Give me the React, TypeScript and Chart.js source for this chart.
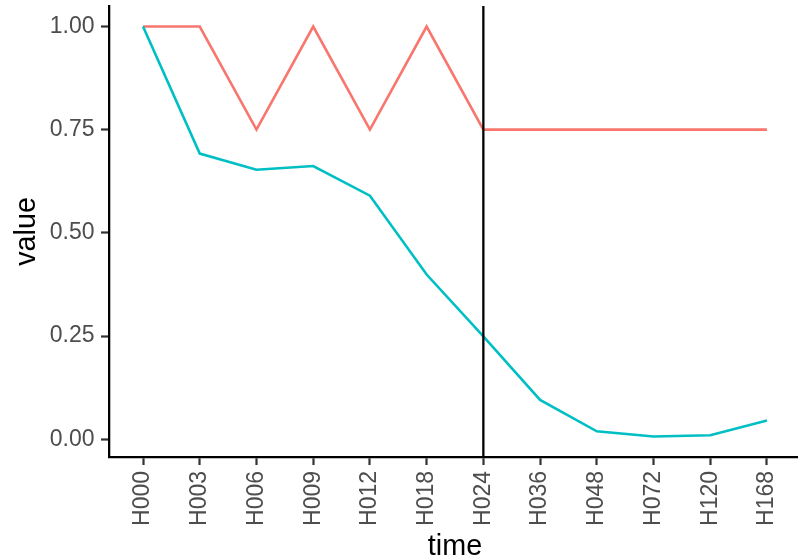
import React, { useEffect, useRef } from "react";
import { Chart, registerables } from "chart.js";

Chart.register(...registerables);

const categories = ["H000", "H003", "H006", "H009", "H012", "H018", "H024", "H036", "H048", "H072", "H120", "H168"];
const redValues = [1.0, 1.0, 0.75, 1.0, 0.75, 1.0, 0.75, 0.75, 0.75, 0.75, 0.75, 0.75];
const cyanValues = [1.0, 0.692, 0.653, 0.662, 0.59, 0.399, 0.249, 0.095, 0.019, 0.0065, 0.0097, 0.045];
const yTicks = [0, 0.25, 0.5, 0.75, 1.0];
const vlineCategory = "H024";

const FONT = "'Liberation Sans', Arial, Helvetica, sans-serif";

export default function App() {
  const ref = useRef<HTMLCanvasElement | null>(null);

  useEffect(() => {
    const canvas = ref.current;
    if (!canvas) return;
    const all = [...redValues, ...cyanValues];
    const dMin = Math.min(...all);
    const dMax = Math.max(...all);
    const span = dMax - dMin;
    const yMin = dMin - span * 0.05;
    const yMax = dMax + span * 0.05;

    const vlinePlugin = {
      id: "vline",
      afterDatasetsDraw(chart: any) {
        const idx = categories.indexOf(vlineCategory);
        const x = chart.scales.x.getPixelForValue(idx);
        const { top, bottom } = chart.chartArea;
        const ctx = chart.ctx;
        ctx.save();
        ctx.strokeStyle = "#000000";
        ctx.lineWidth = 2.3;
        ctx.beginPath();
        ctx.moveTo(x, top);
        ctx.lineTo(x, bottom);
        ctx.stroke();
        ctx.restore();
      },
    };

    const chart = new Chart(canvas, {
      type: "line",
      data: {
        datasets: [
          {
            label: "cyan",
            data: cyanValues.map((v, i) => ({ x: i, y: v })),
            borderColor: "#00BFC4",
            backgroundColor: "#00BFC4",
            borderWidth: 2.6,
            pointRadius: 0,
            tension: 0,
            order: 0,
          },
          {
            label: "red",
            data: redValues.map((v, i) => ({ x: i, y: v })),
            borderColor: "#F8766D",
            backgroundColor: "#F8766D",
            borderWidth: 2.6,
            pointRadius: 0,
            tension: 0,
            order: 1,
          },
        ],
      },
      options: {
        animation: false,
        responsive: false,
        devicePixelRatio: 1,
        layout: { padding: { top: 6, left: 0, right: 0, bottom: 0 } },
        plugins: { legend: { display: false }, tooltip: { enabled: false } },
        scales: {
          x: {
            type: "linear",
            min: -0.6,
            max: categories.length - 1 + 0.6,
            bounds: "data",
            afterBuildTicks: (scale: any) => {
              scale.ticks = categories.map((_, i) => ({ value: i }));
            },
            afterFit: (scale: any) => {
              scale.height = 103;
              scale.paddingLeft = 0;
              scale.paddingRight = 0;
            },
            ticks: {
              autoSkip: false,
              minRotation: 90,
              maxRotation: 90,
              padding: 6,
              color: "#4D4D4D",
              font: { family: FONT, size: 23 },
              callback: (v: any) => categories[Math.round(Number(v))] ?? "",
            },
            grid: {
              display: true,
              drawOnChartArea: false,
              drawTicks: true,
              tickLength: 8,
              tickWidth: 2.2,
              tickColor: "#333333",
            },
            border: { display: true, color: "#000000", width: 2.3 },
            title: {
              display: true,
              text: "time",
              color: "#000000",
              font: { family: FONT, size: 28.75, lineHeight: 0.9 },
              padding: { top: 0, bottom: 0 },
            },
          },
          y: {
            type: "linear",
            min: yMin,
            max: yMax,
            bounds: "data",
            afterBuildTicks: (scale: any) => {
              scale.ticks = yTicks.map((v) => ({ value: v }));
            },
            afterFit: (scale: any) => {
              scale.width = 109;
              scale.paddingTop = 0;
              scale.paddingBottom = 0;
            },
            ticks: {
              padding: 6.5,
              color: "#4D4D4D",
              font: { family: FONT, size: 23 },
              callback: (v: any) => Number(v).toFixed(2),
            },
            grid: {
              display: true,
              drawOnChartArea: false,
              drawTicks: true,
              tickLength: 8,
              tickWidth: 2.2,
              tickColor: "#333333",
            },
            border: { display: true, color: "#000000", width: 2.3 },
            title: {
              display: true,
              text: "value",
              color: "#000000",
              font: { family: FONT, size: 28.75, lineHeight: 1 },
              padding: { top: 12.8, bottom: 0 },
            },
          },
        },
      },
      plugins: [vlinePlugin],
    } as any);

    return () => chart.destroy();
  }, []);

  return (
    <div
      style={{
        position: "fixed",
        left: 0,
        top: 0,
        width: 798,
        height: 560,
        overflow: "hidden",
        background: "#ffffff",
      }}
    >
      <canvas ref={ref} width={801} height={560} style={{ display: "block" }} />
    </div>
  );
}
